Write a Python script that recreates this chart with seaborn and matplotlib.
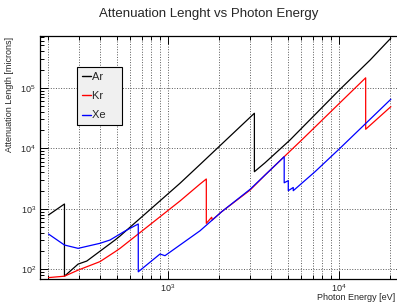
import math
import matplotlib
matplotlib.use("Agg")
import matplotlib.pyplot as plt
import seaborn as sns
import pandas as pd
from matplotlib.lines import Line2D
from matplotlib.ticker import LogLocator, NullFormatter, FuncFormatter

# photon energy [eV] and attenuation length [microns]
ar_energy = [200, 248, 248, 298, 335, 490, 524, 1175, 1540, 3200, 3200, 3690, 5170, 10130, 15200, 20100]
ar_length = [790, 1200, 77, 122, 137, 305, 355, 2640, 5400, 37900, 4100, 5750, 13700, 94100, 287000, 660000]

kr_energy = [200, 248, 298, 400, 490, 524, 1175, 1345, 1540, 1675, 1675, 1800, 1815, 2060, 3020, 3690,
             4780, 6050, 10130, 14320, 14320, 20100]
kr_length = [73, 77, 97, 134, 195, 222, 1345, 1860, 2570, 3110, 575, 725, 653, 895, 2040, 3600,
             7260, 13700, 56500, 146000, 20600, 48700]

xe_energy = [200, 248, 298, 400, 458, 561, 670, 670, 898, 960, 1540, 2060, 3020, 3690, 4780, 4780,
             5050, 5050, 5400, 5400, 7240, 10130, 20100]
xe_length = [383, 252, 222, 269, 305, 430, 561, 91, 179, 168, 434, 895, 2100, 3600, 7260, 2690,
             2920, 1990, 2250, 1990, 4100, 10000, 64600]

gases = ["Ar", "Kr", "Xe"]
colors = {"Ar": "black", "Kr": "red", "Xe": "blue"}

frames = []
for gas, e, l in zip(gases, [ar_energy, kr_energy, xe_energy], [ar_length, kr_length, xe_length]):
    frames.append(pd.DataFrame({"energy": e, "length": l, "gas": gas}))
data = pd.concat(frames, ignore_index=True)

sns.set_style("white")
plt.rcParams["font.family"] = ["Liberation Sans", "DejaVu Sans"]
plt.rcParams["mathtext.default"] = "regular"

fig = plt.figure(figsize=(3.97, 3.04), dpi=100)
ax = fig.add_axes([40 / 397, 1 - 279 / 304, 358 / 397, 243 / 304])
ax.set_xscale("log")
ax.set_yscale("log")

sns.lineplot(data=data, x="energy", y="length", hue="gas", palette=colors,
             sort=False, estimator=None, lw=0.9, legend=False, ax=ax)

ax.set_xlim(178.4, 22130)
ax.set_ylim(69.2, 716000)

# ROOT-like ticks: inward, on top too
ax.xaxis.set_major_locator(LogLocator(base=10))
ax.xaxis.set_minor_locator(LogLocator(base=10, subs=range(2, 10)))
ax.yaxis.set_major_locator(LogLocator(base=10))
ax.yaxis.set_minor_locator(LogLocator(base=10, subs=range(2, 10)))
pow_fmt = FuncFormatter(lambda v, p: "$10^{%d}$" % round(math.log10(v)))
ax.xaxis.set_major_formatter(pow_fmt)
ax.yaxis.set_major_formatter(pow_fmt)
ax.xaxis.set_minor_formatter(NullFormatter())
ax.yaxis.set_minor_formatter(NullFormatter())
ax.tick_params(which="both", direction="in", top=True, bottom=True, left=True, right=False,
               labelsize=6.5, width=0.7, color="black")
ax.tick_params(which="major", length=6)
ax.tick_params(axis="y", which="major", pad=3)
ax.tick_params(axis="x", which="major", pad=2.5)
ax.tick_params(which="minor", length=3)

ax.grid(True, which="major", axis="both", ls=":", lw=0.7, color="0.35")
ax.grid(True, which="minor", axis="x", ls=":", lw=0.7, color="0.35")

for s in ax.spines.values():
    s.set_color("black")
    s.set_linewidth(0.9)

ax.set_xlabel("")
ax.set_ylabel("")
fig.text(395 / 397, 1 - 300 / 304, "Photon Energy [eV]", ha="right", va="baseline", fontsize=6.5)
fig.text(10 / 397, 1 - 37 / 304, "Attenuation Length [microns]", ha="center", va="top",
         rotation=90, fontsize=6.5)
fig.text(209 / 397, 1 - 14 / 304, "Attenuation Lenght vs Photon Energy", ha="center", va="center",
         fontsize=9.5)

handles = [Line2D([], [], color=colors[g], lw=1) for g in gases]
leg = ax.legend(handles, [g + "    " for g in gases], loc="upper left",
                bbox_to_anchor=(0.104, 0.872), fontsize=8, frameon=True, fancybox=False,
                handlelength=0.8, handletextpad=0.1, labelspacing=0.85, borderpad=0.4,
                borderaxespad=0)
leg.get_frame().set_facecolor("#f0f0f0")
leg.get_frame().set_edgecolor("black")
leg.get_frame().set_linewidth(0.8)
leg.get_frame().set_alpha(1)

fig.savefig("out.png", dpi=100)
